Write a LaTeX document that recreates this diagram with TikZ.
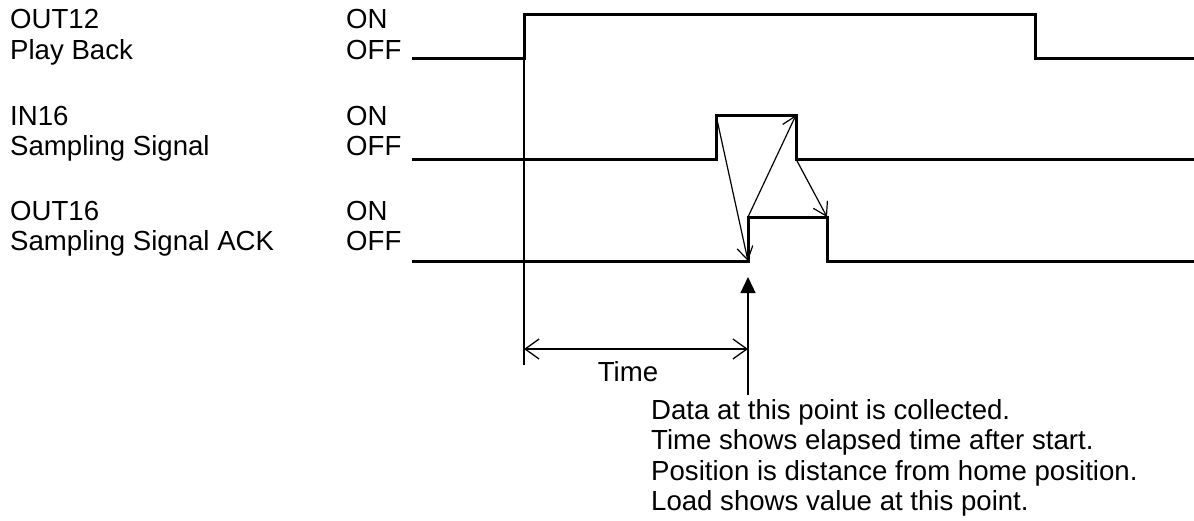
\documentclass[tikz,border=0pt]{standalone}
\usepackage{fontspec}
\setmainfont{Liberation Sans}
\usetikzlibrary{arrows.meta,positioning}

\begin{document}
\begin{tikzpicture}[x=1pt,y=-1pt,
    sig/.style={line width=3pt,line join=miter},
    ln/.style={line width=1.3pt},
    ar/.style={-{Straight Barb[length=13pt,width=16pt]},line width=1.2pt},
    tm/.style={{Straight Barb[length=14pt,width=20pt]}-{Straight Barb[length=14pt,width=20pt]},line width=1.3pt},
    up/.style={-{Triangle[length=16pt,width=15pt]},line width=1.3pt},
    lbl/.style={anchor=base west,inner sep=0pt,font=\fontsize{27.6}{31}\selectfont},
  ]
    \useasboundingbox (0,0) rectangle (1194,520);
    % signal names
    \node[lbl](o12) at (10,28) {OUT12};
    \node[lbl](o12b) at (10,59) {Play Back};
    \node[lbl](o12on) at (346,28) {ON};
    \node[lbl](o12off) at (346,59) {OFF};
    \node[lbl](i16) at (10,125) {IN16};
    \node[lbl](i16b) at (10,155) {Sampling Signal};
    \node[lbl](i16on) at (346,125) {ON};
    \node[lbl](i16off) at (346,155) {OFF};
    \node[lbl](o16) at (10,220) {OUT16};
    \node[lbl](o16b) at (10,250) {Sampling Signal ACK};
    \node[lbl](o16on) at (346,220) {ON};
    \node[lbl](o16off) at (346,250) {OFF};
    % waveforms
    \coordinate (pb0) at (524,58);
    \coordinate (s1) at (716,115);
    \coordinate (s2) at (796,115);
    \coordinate (s3) at (796,159);
    \coordinate (k1) at (748,261);
    \coordinate (k2) at (748,217);
    \coordinate (k3) at (827,217);
    \draw[sig] (412,58) -- (pb0) -- (524,14) -| (1035,58) -- (1194,58);
    \draw[sig] (412,159) -| (s1) -- (s2) -- (s3) -- (1194,159);
    \draw[sig] (412,261) -- (k1) -- (k2) -- (k3) |- (1194,261);
    % handshake
    \draw[ar] (s1) -- (k1);
    \draw[ar] (k2) -- (s2);
    \draw[ar] (s3) -- (k3);
    % time
    \coordinate (st) at (524,365);
    \coordinate (t0) at (524,349);
    \coordinate (t1) at (748,349);
    \draw[ln] (pb0) -- (st);
    \draw[tm] (t0) -- (t1);
    \node[lbl,anchor=base](tl) at (628,381) {Time};
    \coordinate (dp) at (748,395);
    \coordinate (dt) at (748,277);
    \draw[up] (dp) -- (dt);
    % note
    \node[lbl](n1) at (651,419) {Data at this point is collected.};
    \node[lbl](n2) at (651,449.5) {Time shows elapsed time after start.};
    \node[lbl](n3) at (651,480) {Position is distance from home position.};
    \node[lbl](n4) at (651,510.5) {Load shows value at this point.};
\end{tikzpicture}
\end{document}
